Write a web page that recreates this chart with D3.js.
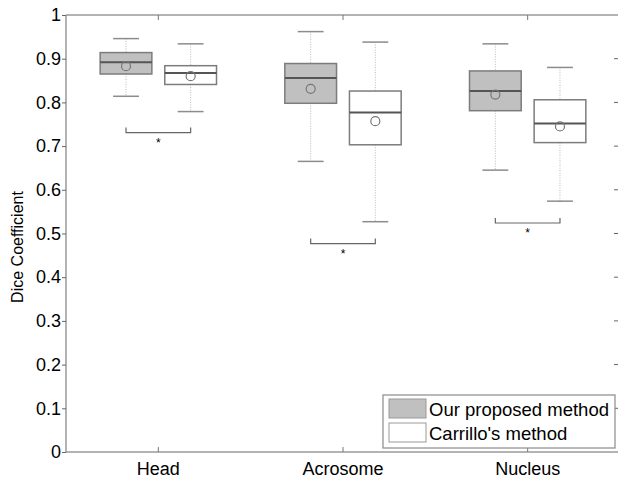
<!DOCTYPE html>
<html>
<head>
<meta charset="utf-8">
<script src="https://cdn.jsdelivr.net/npm/d3@7"></script>
<style>
	body { margin: 0; background: #fff; }
	text { font-family: "Liberation Sans", Arial, Helvetica, sans-serif; fill: #000; }
</style>
</head>
<body>
<div id="graph"></div>
<script>
// categories and box statistics
var categories = ["Head", "Acrosome", "Nucleus"];
var y_ticks = [0, 0.1, 0.2, 0.3, 0.4, 0.5, 0.6, 0.7, 0.8, 0.9, 1];

// Our proposed method
var ours_low = [0.814, 0.665, 0.645];
var ours_q1 = [0.865, 0.798, 0.781];
var ours_median = [0.892, 0.856, 0.826];
var ours_q3 = [0.914, 0.889, 0.872];
var ours_high = [0.946, 0.962, 0.934];
var ours_mean = [0.883, 0.831, 0.818];

// Carrillo's method
var carr_low = [0.779, 0.527, 0.574];
var carr_q1 = [0.841, 0.703, 0.708];
var carr_median = [0.867, 0.777, 0.752];
var carr_q3 = [0.884, 0.826, 0.806];
var carr_high = [0.934, 0.938, 0.880];
var carr_mean = [0.860, 0.757, 0.745];

// significance brackets (y level)
var bracket_level = [0.731, 0.477, 0.524];

var series = [
	{name: "Our proposed method", fill: "#c0c0c0", offset: -0.175,
		low: ours_low, q1: ours_q1, median: ours_median, q3: ours_q3, high: ours_high, mean: ours_mean},
	{name: "Carrillo's method", fill: "#ffffff", offset: 0.175,
		low: carr_low, q1: carr_q1, median: carr_median, q3: carr_q3, high: carr_high, mean: carr_mean}
];

var width = 618, height = 479;
var m_left = 66, m_right = 620, m_top = 15, m_bottom = 452;
var box_w = 0.28; // in category units
var cap_w = 0.14;

var svg = d3.select("#graph").append("svg").attr("width", width).attr("height", height);

var x = d3.scaleLinear().domain([0.5, 3.5]).range([m_left, m_right]);
var y = d3.scaleLinear().domain([0, 1]).range([m_bottom, m_top]);

// axes frame
var axis_col = "#9a9a9a";
svg.append("line").attr("x1", m_left).attr("x2", m_right).attr("y1", m_top).attr("y2", m_top)
	.attr("stroke", axis_col).attr("stroke-width", 1.5);
svg.append("line").attr("x1", m_left).attr("x2", m_right).attr("y1", m_bottom).attr("y2", m_bottom)
	.attr("stroke", axis_col).attr("stroke-width", 1.5);
svg.append("line").attr("x1", m_left).attr("x2", m_left).attr("y1", m_top).attr("y2", m_bottom)
	.attr("stroke", axis_col).attr("stroke-width", 1.5);

// y axis ticks + labels
var yAxis = svg.append("g").attr("transform", `translate(${m_left},0)`)
	.call(d3.axisLeft(y).tickValues(y_ticks).tickSize(4).tickPadding(1)
		.tickFormat(d => d === 0 || d === 1 ? d3.format("d")(d) : d3.format(".1f")(d)));
yAxis.select(".domain").remove();
yAxis.selectAll(".tick line").attr("stroke", "#666");
yAxis.selectAll("text").attr("font-size", 18).attr("font-family", "Liberation Sans, Arial, sans-serif");

// right side ticks
svg.append("g").selectAll("line").data(y_ticks.slice(1, -1)).join("line")
	.attr("x1", m_right - 6).attr("x2", m_right).attr("y1", d => y(d)).attr("y2", d => y(d))
	.attr("stroke", "#666");

// x ticks (bottom up, top down)
var cat_idx = categories.map((c, i) => i + 1);
svg.append("g").selectAll("line").data(cat_idx).join("line")
	.attr("x1", d => x(d)).attr("x2", d => x(d)).attr("y1", m_bottom).attr("y2", m_bottom - 5)
	.attr("stroke", "#777");
svg.append("g").selectAll("line").data(cat_idx).join("line")
	.attr("x1", d => x(d)).attr("x2", d => x(d)).attr("y1", m_top).attr("y2", m_top + 5)
	.attr("stroke", "#777");
svg.append("g").selectAll("text").data(categories).join("text")
	.attr("x", (d, i) => x(i + 1)).attr("y", 475)
	.attr("text-anchor", "middle").attr("font-size", 18).text(d => d);

// y label
svg.append("text").attr("transform", "translate(23,247) rotate(-90)")
	.attr("text-anchor", "middle").attr("font-size", 16).text("Dice Coefficient");

// boxes
series.forEach(function(s) {
	var g = svg.append("g");
	cat_idx.forEach(function(c, i) {
		var cx = c + s.offset;
		// dotted whiskers
		g.append("line").attr("x1", x(cx)).attr("x2", x(cx)).attr("y1", y(s.high[i])).attr("y2", y(s.q3[i]))
			.attr("stroke", "#b8b8b8").attr("stroke-dasharray", "1,1.5");
		g.append("line").attr("x1", x(cx)).attr("x2", x(cx)).attr("y1", y(s.q1[i])).attr("y2", y(s.low[i]))
			.attr("stroke", "#b8b8b8").attr("stroke-dasharray", "1,1.5");
		// caps
		[s.high[i], s.low[i]].forEach(function(v) {
			g.append("line").attr("x1", x(cx - cap_w / 2)).attr("x2", x(cx + cap_w / 2))
				.attr("y1", y(v)).attr("y2", y(v)).attr("stroke", "#8c8c8c").attr("stroke-width", 1.5);
		});
		// box
		g.append("rect").attr("x", x(cx - box_w / 2)).attr("y", y(s.q3[i]))
			.attr("width", x(cx + box_w / 2) - x(cx - box_w / 2)).attr("height", y(s.q1[i]) - y(s.q3[i]))
			.attr("fill", s.fill).attr("stroke", "#7c7c7c").attr("stroke-width", 1.5);
		// median
		g.append("line").attr("x1", x(cx - box_w / 2)).attr("x2", x(cx + box_w / 2))
			.attr("y1", y(s.median[i])).attr("y2", y(s.median[i]))
			.attr("stroke", "#555").attr("stroke-width", 2);
		// mean
		g.append("circle").attr("cx", x(cx)).attr("cy", y(s.mean[i])).attr("r", 4.5)
			.attr("fill", "none").attr("stroke", "#777").attr("stroke-width", 1.2);
	});
});

// significance brackets
var br = svg.append("g");
cat_idx.forEach(function(c, i) {
	var x0 = x(c + series[0].offset), x1 = x(c + series[1].offset), yy = y(bracket_level[i]);
	br.append("path").attr("d", `M${x0},${yy - 5}V${yy}H${x1}V${yy - 5}`)
		.attr("fill", "none").attr("stroke", "#666").attr("stroke-width", 1.2);
	br.append("text").attr("x", (x0 + x1) / 2).attr("y", yy + 14)
		.attr("text-anchor", "middle").attr("font-size", 12).text("*");
});

// legend
var lg = svg.append("g");
lg.append("rect").attr("x", 383).attr("y", 395).attr("width", 232).attr("height", 53)
	.attr("fill", "#fff").attr("stroke", "#8a8a8a").attr("stroke-width", 1.2);
series.forEach(function(s, i) {
	lg.append("rect").attr("x", 389).attr("y", 399 + i * 24).attr("width", 37).attr("height", 19)
		.attr("fill", s.fill).attr("stroke", "#999");
	lg.append("text").attr("x", 429).attr("y", 415.5 + i * 24).attr("font-size", 18.5).text(s.name);
});
</script>
</body>
</html>
